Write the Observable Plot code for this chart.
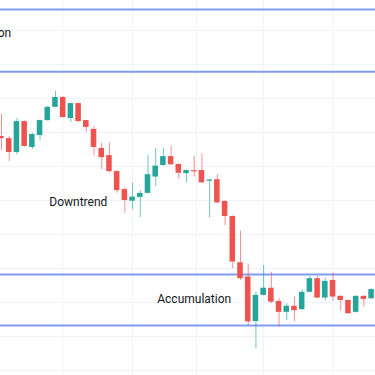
<!DOCTYPE html>
<html>
<head>
<meta charset="utf-8">
<script src="https://cdn.jsdelivr.net/npm/d3@7"></script>
<script src="https://cdn.jsdelivr.net/npm/@observablehq/plot@0.6"></script>
<style>
  html, body { margin: 0; padding: 0; background: #fff; }
  #chart { width: 375px; height: 375px; overflow: hidden; }
</style>
</head>
<body>
<div id="chart"></div>
<script>
// OHLC series (candle index = position in arrays)
const opens  = [138.8,138.2,134.1,143.2,135.6,139.1,143.5,147.4,150.3,144.1,148.5,143.5,140.9,135.3,133.2,128.5,123.2,119.8,120.9,122.1,126.9,130.3,132.9,130.6,127.9,128.7,128.8,125.7,126.1,119.7,115.3,101.7,97.5,84.4,92.1,94.2,90.3,87.1,88.9,87.9,93.0,97.0,91.3,96.5,91.8,90.6,87.1,91.8,91.1];
const highs  = [145.3,138.8,144.1,143.4,139.8,143.7,147.6,152.1,150.5,148.7,148.7,143.6,141.8,136.8,136.8,128.7,123.8,125.1,122.9,133.2,135.3,135.3,136.0,130.8,129.0,132.9,133.7,126.2,127.6,119.9,115.5,111.0,101.3,93.0,100.9,98.9,91.1,89.6,91.6,93.7,97.7,97.7,97.1,98.7,92.0,90.8,92.0,92.0,94.0];
const lows   = [134.7,131.5,133.5,135.7,135.0,137.6,143.3,147.2,144.2,142.9,143.0,140.1,133.2,129.1,128.2,122.1,116.2,117.4,115.0,121.9,124.1,130.1,130.3,126.2,125.1,126.9,125.0,114.9,119.1,112.6,99.9,96.5,83.1,76.4,91.9,89.7,82.7,84.7,84.4,87.7,92.8,91.1,90.4,90.3,87.6,86.5,86.9,88.6,90.9];
const closes = [138.2,134.1,143.2,135.9,139.4,143.5,147.4,150.3,144.4,148.5,143.2,141.5,135.6,132.6,128.5,122.9,120.0,121.0,122.1,127.6,130.1,132.9,130.5,128.0,128.8,128.5,125.2,126.0,119.3,115.3,101.9,97.0,84.3,92.1,94.2,90.1,87.1,88.9,87.6,93.0,97.0,91.3,96.2,91.6,90.6,86.7,91.8,90.9,93.8];

// zone boundaries (Distribution top zone, Accumulation bottom zone)
const zoneLevels = [176.2, 157.9, 98.2, 83.2];
// price gridlines and time gridlines
const priceTicks = [70, 80, 90, 100, 110, 120, 130, 140, 150, 160, 170];
const timeTicks = [8, 17, 25.3, 34, 43];
// annotations
const labels = ["Distribution", "Downtrend", "Accumulation"];
const labelIdx = [1.25, 6.2, 20.2];
const labelPrice = [169.1, 119.4, 90.9];

const candles = opens.map((o, i) => {
  const c = closes[i];
  const up = c >= o;
  let top = Math.max(o, c), bot = Math.min(o, c);
  if (top - bot < 0.35) { const m = (top + bot) / 2; top = m + 0.175; bot = m - 0.175; }
  return { i, open: o, close: c, high: highs[i], low: lows[i], top, bot, up };
});
const notes = labels.map((t, k) => ({ t, x: labelIdx[k], y: labelPrice[k], anchor: k === 0 ? "end" : "start" }));

const GREEN = "#26a69a", RED = "#ef5350";
const halfW = 0.36;
const FONT = "Roboto, 'Open Sans', sans-serif";

const chart = Plot.plot({
  width: 375,
  height: 375,
  margin: 0,
  x: { domain: [-0.13, 48.51], axis: null },
  y: { domain: [68.53, 178.82], axis: null },
  style: { background: "#fff" },
  marks: [
    Plot.ruleY(priceTicks, { stroke: "#f0f3fa", strokeWidth: 1 }),
    Plot.ruleX(timeTicks, { stroke: "#f0f3fa", strokeWidth: 1 }),
    Plot.ruleY(zoneLevels, { stroke: "#7f9cf5", strokeWidth: 2 }),
    Plot.ruleX(candles, { x: "i", y1: "low", y2: "high", stroke: d => d.up ? GREEN : RED, strokeOpacity: 0.65, strokeWidth: 1 }),
    Plot.rect(candles, { x1: d => d.i - halfW, x2: d => d.i + halfW, y1: "bot", y2: "top", fill: d => d.up ? GREEN : RED }),
    Plot.text(notes.filter(d => d.anchor === "end"), { x: "x", y: "y", text: "t", textAnchor: "end", fontSize: 12, fill: "#131722", fontFamily: FONT }),
    Plot.text(notes.filter(d => d.anchor === "start"), { x: "x", y: "y", text: "t", textAnchor: "start", fontSize: 12, fill: "#131722", fontFamily: FONT })
  ]
});
document.getElementById("chart").appendChild(chart);
</script>
</body>
</html>
